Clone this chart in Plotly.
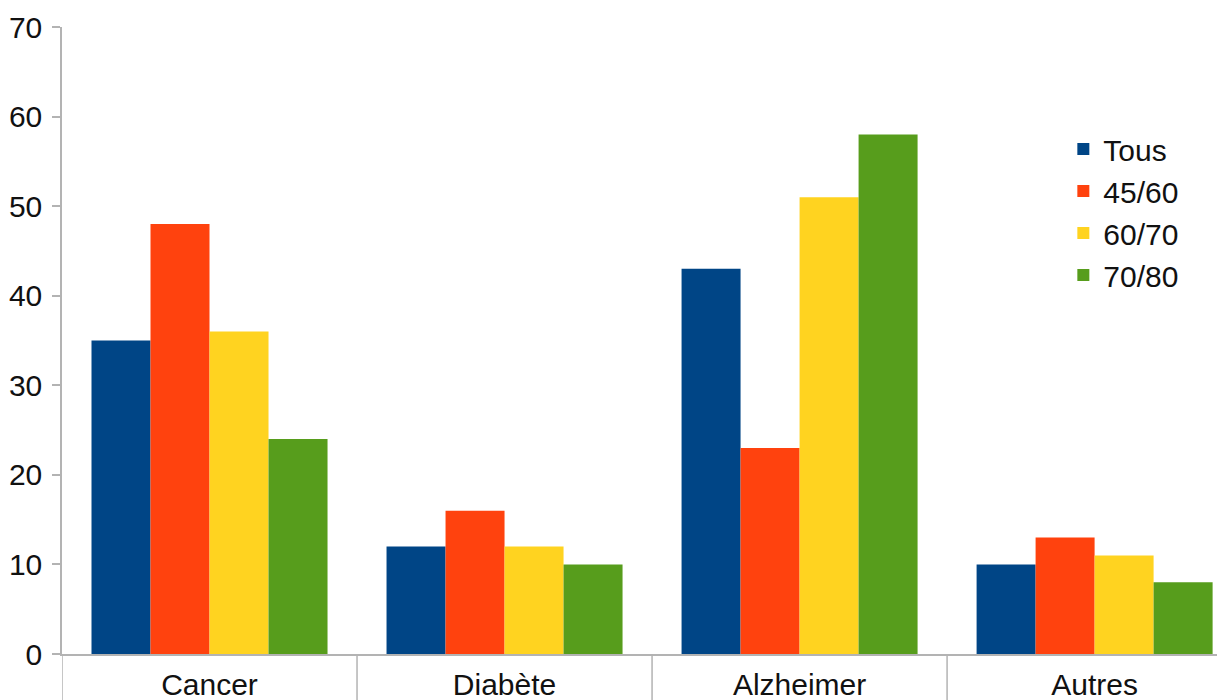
import plotly.graph_objects as go

categories = ["Cancer", "Diabète", "Alzheimer", "Autres"]
series_names = ["Tous", "45/60", "60/70", "70/80"]
tous = [35, 12, 43, 10]
g45_60 = [48, 16, 23, 13]
g60_70 = [36, 12, 51, 11]
g70_80 = [24, 10, 58, 8]
y_ticks = [0, 10, 20, 30, 40, 50, 60, 70]

colors = ["#004586", "#ff420e", "#ffd320", "#579d1c"]
values = [tous, g45_60, g60_70, g70_80]

FONT = "Liberation Sans, Arial, sans-serif"
fig = go.Figure()
for name, vals, col in zip(series_names, values, colors):
    fig.add_trace(go.Bar(name=name, x=categories, y=vals, marker=dict(color=col, line=dict(width=0)),
                         legendgroup=name))

# category divider lines extending below the axis
for i in range(len(categories) + 1):
    fig.add_shape(type="line", xref="x", yref="paper", x0=i - 0.5, x1=i - 0.5, y0=0, y1=-0.08,
                  line=dict(color="#b3b3b3", width=1.5))

fig.update_layout(
    width=1217, height=692,
    margin=dict(l=54, r=0, t=19, b=46),
    paper_bgcolor="white", plot_bgcolor="white",
    barmode="group", bargap=0.2, bargroupgap=0,
    font=dict(family=FONT, size=30, color="#111111"),
    showlegend=True,
    legend=dict(x=0.861, y=0.847, xanchor="left", yanchor="top", tracegroupgap=0,
                traceorder="grouped", bgcolor="rgba(0,0,0,0)", font=dict(size=30)),
)
fig.update_xaxes(range=[-0.5, 3.442], showline=True, linecolor="#b3b3b3", linewidth=1.5,
                 ticks="", showgrid=False, zeroline=False, ticklabelstandoff=3,
                 tickfont=dict(size=30), automargin=False)
fig.update_yaxes(range=[0, 70], tickvals=y_ticks, showline=True, linecolor="#b3b3b3", linewidth=1.5,
                 ticks="outside", ticklen=8, tickcolor="#b3b3b3", tickwidth=1.5,
                 showgrid=False, zeroline=False, tickfont=dict(size=30), ticklabelstandoff=4,
                 automargin=False)

fig.write_html("out.html")
